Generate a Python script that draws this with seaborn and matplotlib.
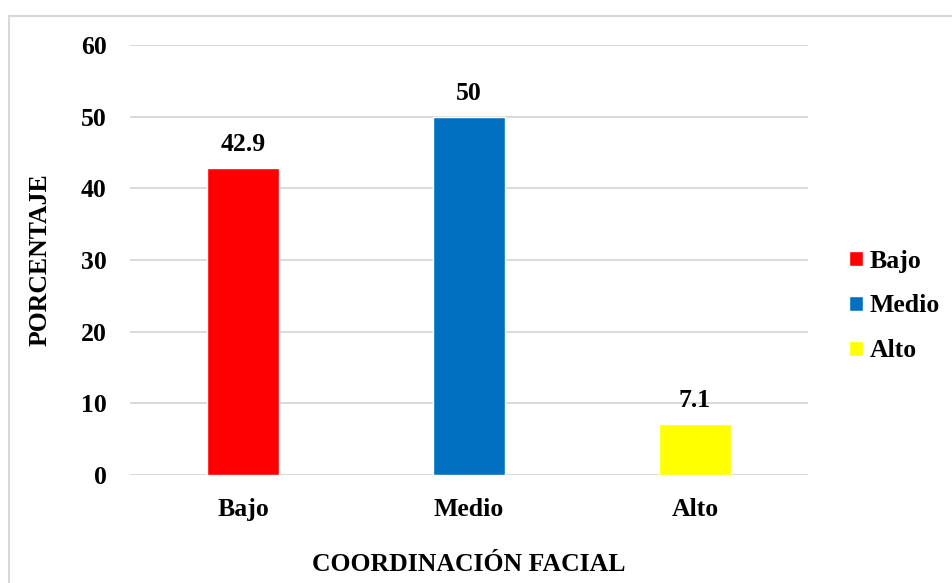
import matplotlib
matplotlib.use("Agg")
import matplotlib.pyplot as plt
import pandas as pd
import seaborn as sns
from matplotlib.patches import Rectangle

categories = ["Bajo", "Medio", "Alto"]
percentages = [42.9, 50.0, 7.1]
value_labels = ["42.9", "50", "7.1"]
colors = ["#ff0000", "#0070c0", "#ffff00"]
y_ticks = [0, 10, 20, 30, 40, 50, 60]

df = pd.DataFrame({"nivel": categories, "pct": percentages})

sns.set_style("white")
plt.rcParams["font.family"] = ["Liberation Serif", "DejaVu Serif"]
plt.rcParams["font.weight"] = "bold"
plt.rcParams["text.color"] = "black"
plt.rcParams["axes.labelcolor"] = "black"
plt.rcParams["xtick.color"] = "black"
plt.rcParams["ytick.color"] = "black"
FS = 18.5

fig = plt.figure(figsize=(9.53, 5.83), dpi=100)
ax = fig.add_axes([130 / 953, 108 / 583, 678 / 953, 430 / 583])

sns.barplot(data=df, x="nivel", y="pct", hue="nivel", order=categories,
            hue_order=categories, palette=colors, width=0.32, saturation=1,
            legend=True, ax=ax)

ax.set_ylim(0, 60)
ax.set_xlim(-0.5, 2.5)
ax.set_yticks(y_ticks)
ax.set_yticklabels([str(t) for t in y_ticks], fontsize=FS, fontweight="bold", color="black")
ax.set_xticks(range(len(categories)))
ax.set_xticklabels(categories, fontsize=FS, fontweight="bold", color="black")
ax.tick_params(axis="y", length=0, pad=17)
ax.tick_params(axis="x", length=0, pad=16.5)
ax.yaxis.grid(True, color="#d9d9d9", linewidth=1.4)
ax.set_axisbelow(True)
for s in ax.spines.values():
    s.set_visible(False)

ax.set_ylabel("PORCENTAJE", fontsize=FS, fontweight="bold", labelpad=21, color="black")
ax.set_xlabel("COORDINACIÓN FACIAL", fontsize=FS, fontweight="bold", labelpad=23, color="black")

for i, (v, lab) in enumerate(zip(percentages, value_labels)):
    ax.annotate(lab, (i, v), xytext=(0, 8.5), textcoords="offset points",
                ha="center", va="bottom", fontsize=FS, fontweight="bold", color="black")

sns.move_legend(ax, "center left", bbox_to_anchor=(836 / 953, (583 - 306) / 583),
                bbox_transform=fig.transFigure, frameon=False, title=None,
                fontsize=FS, handlelength=0.55, handleheight=0.55,
                handletextpad=0.25, labelspacing=0.85, borderpad=0)
for t in ax.get_legend().get_texts():
    t.set_fontweight("bold")
    t.set_color("black")

fig.patches.append(Rectangle((9 / 953, -0.1), 1.2, (583 - 16) / 583 + 0.1,
                             transform=fig.transFigure, fill=False,
                             edgecolor="#d9d9d9", linewidth=1.5))

fig.savefig("out.png", dpi=100)
